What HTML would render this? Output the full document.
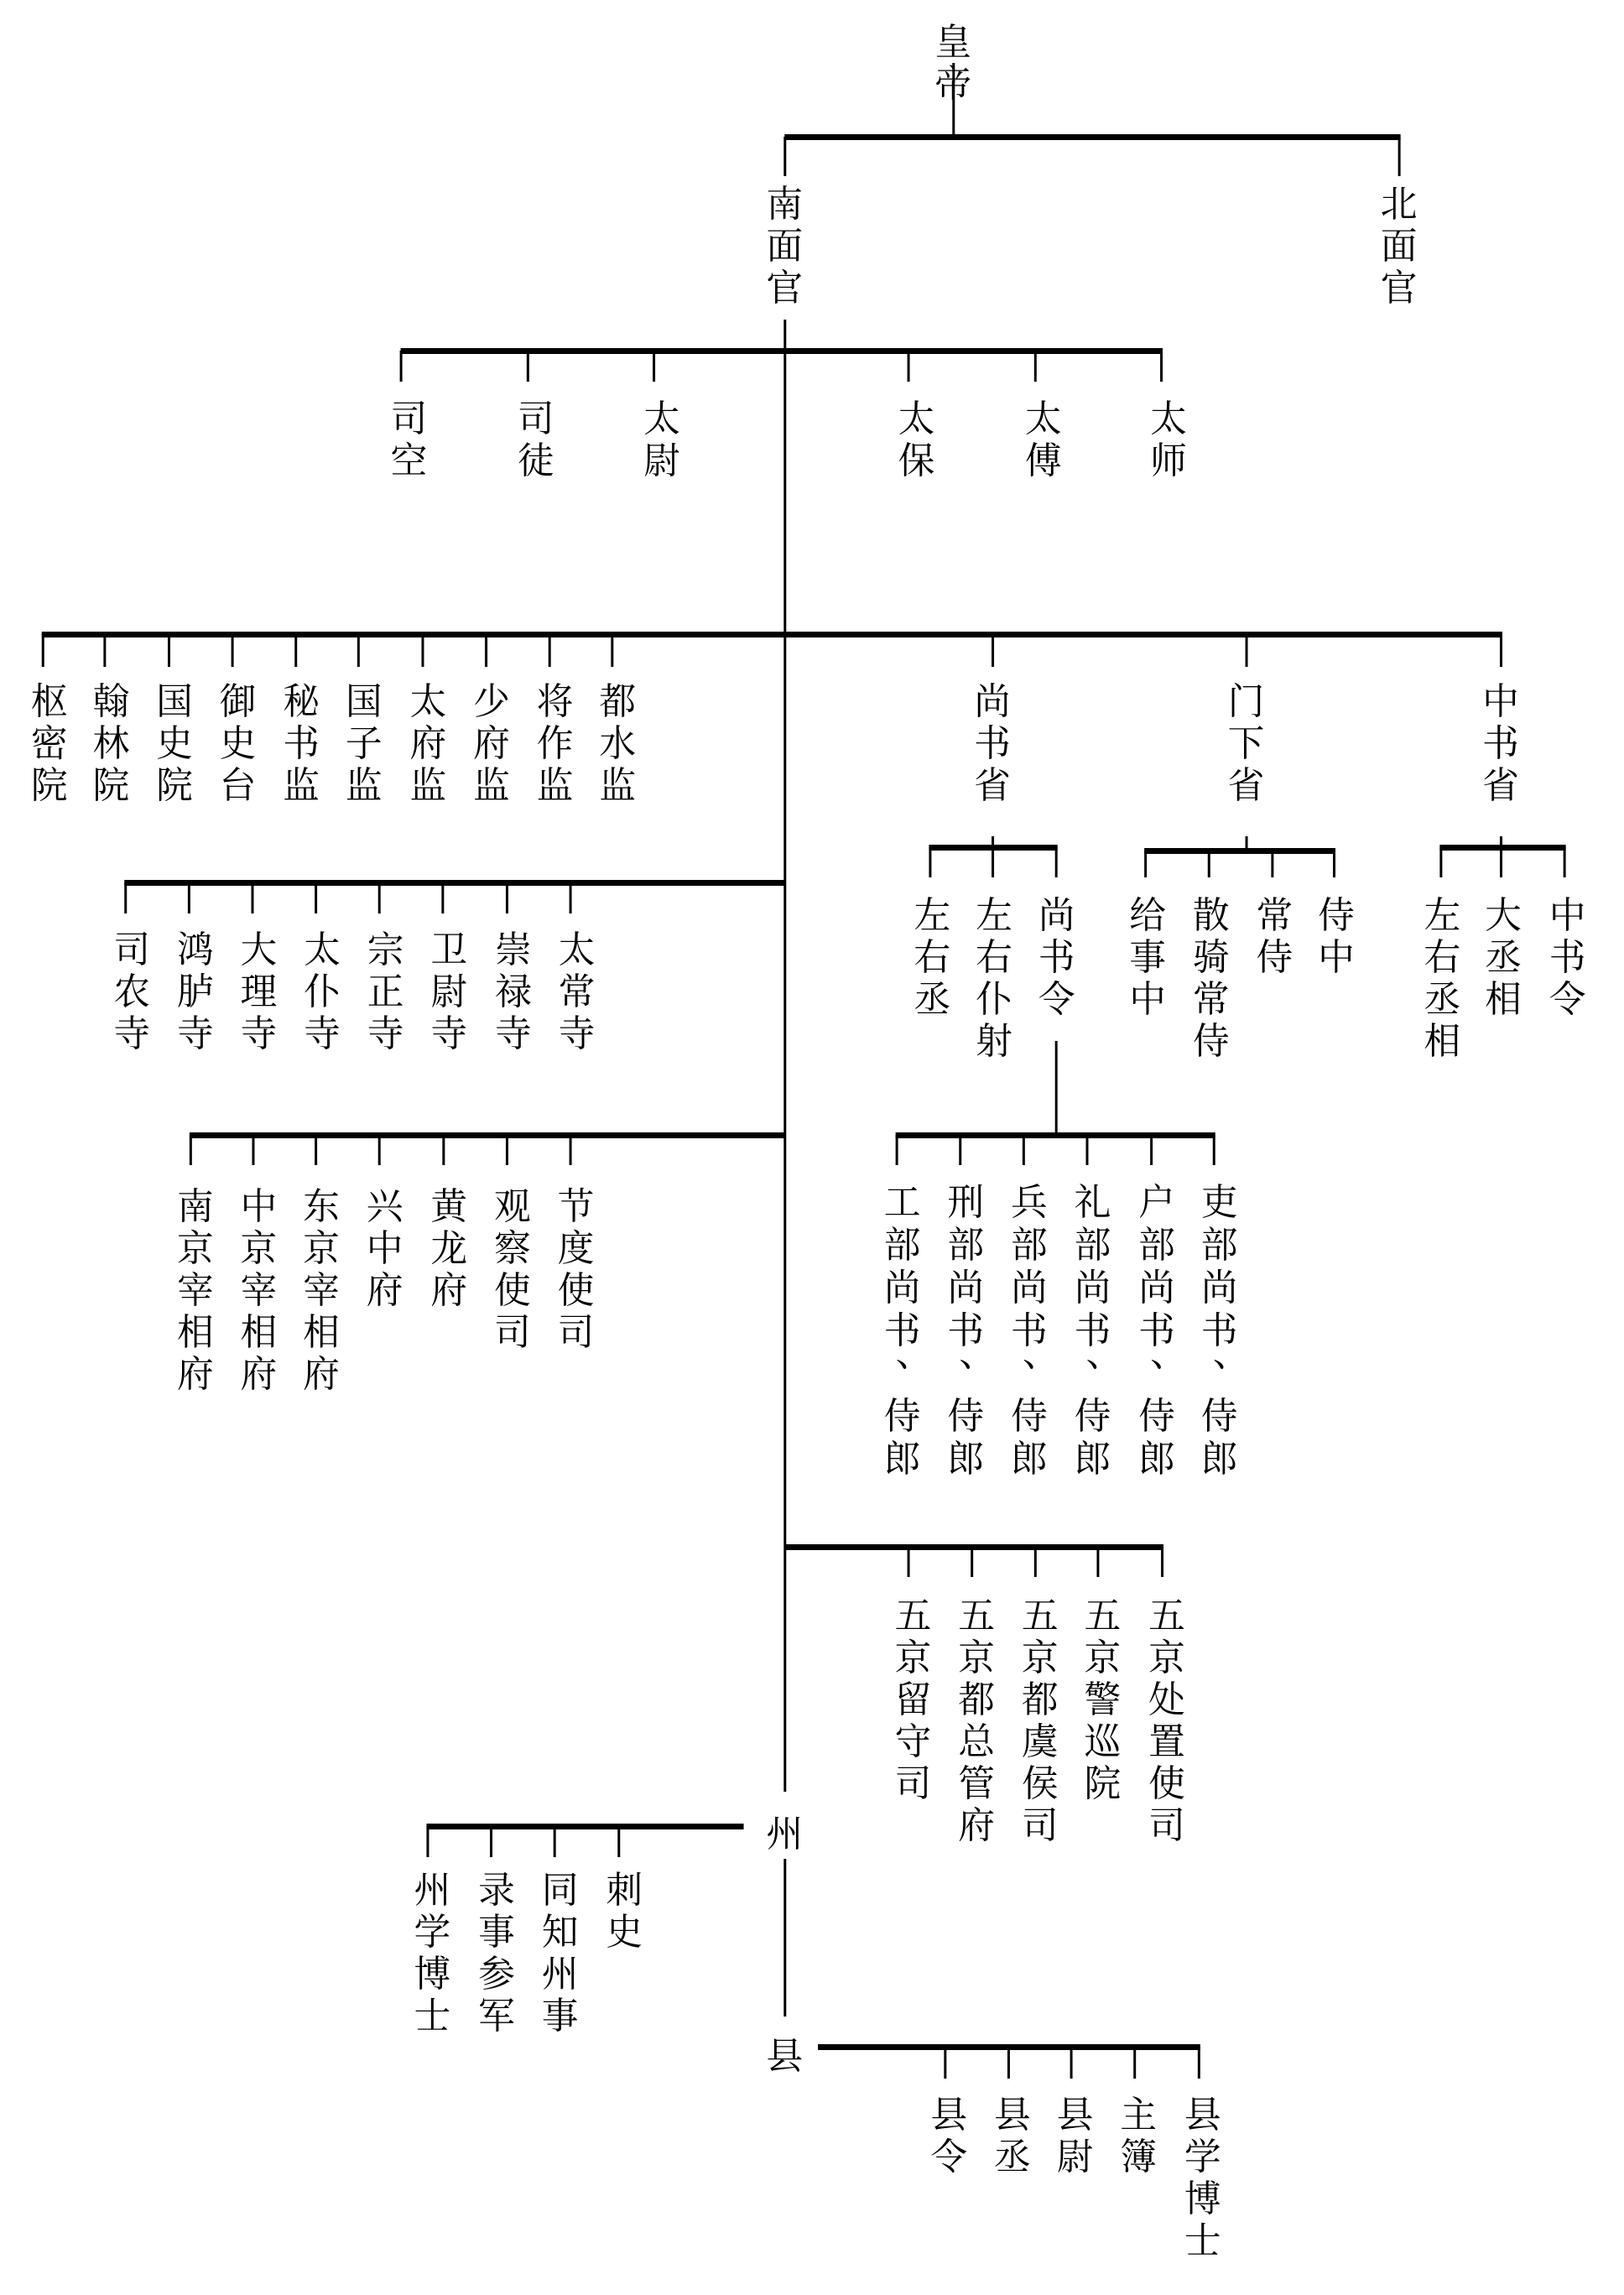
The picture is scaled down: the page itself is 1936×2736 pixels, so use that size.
<!DOCTYPE html>
<html><head><meta charset="utf-8"><style>
body{margin:0;width:1936px;height:2736px;background:#fff;position:relative;overflow:hidden}
#w{position:absolute;left:0;top:0;width:1936px;height:2736px;transform:scaleX(0.995);transform-origin:0 0}
.v{position:absolute;width:60px;margin-left:-30px;text-align:center;font-family:"Liberation Serif","Noto Serif CJK SC",serif;font-size:44px;line-height:50px;color:#000}
.h{position:absolute;background:#000;height:7px}
.l{position:absolute;background:#000;width:3px;margin-left:-1px}
.d{display:inline-block;transform:translate(14px,-24px)}
</style></head><body><div id="w">
<!-- top -->
<div class="v" style="left:1142px;top:26px">皇<br>帝</div>
<div class="l" style="left:1142px;top:75px;height:90px"></div>
<div class="h" style="left:940px;top:160px;width:738px"></div>
<div class="l" style="left:940px;top:163px;height:47px"></div>
<div class="l" style="left:1676px;top:163px;height:47px"></div>
<div class="v" style="left:940px;top:219px">南<br>面<br>官</div>
<div class="v" style="left:1676px;top:219px">北<br>面<br>官</div>
<!-- trunk -->
<div class="l" style="left:940px;top:381px;height:1755px"></div>
<div class="l" style="left:940px;top:2216px;height:188px"></div>
<!-- bar2 -->
<div class="h" style="left:480px;top:415px;width:913px"></div>
<div class="l" style="left:480px;top:418px;height:37px"></div>
<div class="l" style="left:632px;top:418px;height:37px"></div>
<div class="l" style="left:783px;top:418px;height:37px"></div>
<div class="l" style="left:1088px;top:418px;height:37px"></div>
<div class="l" style="left:1240px;top:418px;height:37px"></div>
<div class="l" style="left:1391px;top:418px;height:37px"></div>
<div class="v" style="left:490px;top:475px">司<br>空</div>
<div class="v" style="left:642px;top:475px">司<br>徒</div>
<div class="v" style="left:793px;top:475px">太<br>尉</div>
<div class="v" style="left:1098px;top:475px">太<br>保</div>
<div class="v" style="left:1250px;top:475px">太<br>傅</div>
<div class="v" style="left:1400px;top:475px">太<br>师</div>
<!-- bar3 -->
<div class="h" style="left:50px;top:753px;width:1750px"></div>
<div class="l" style="left:51px;top:756px;height:39px"></div>
<div class="l" style="left:125px;top:756px;height:39px"></div>
<div class="l" style="left:202px;top:756px;height:39px"></div>
<div class="l" style="left:278px;top:756px;height:39px"></div>
<div class="l" style="left:354px;top:756px;height:39px"></div>
<div class="l" style="left:429px;top:756px;height:39px"></div>
<div class="l" style="left:506px;top:756px;height:39px"></div>
<div class="l" style="left:582px;top:756px;height:39px"></div>
<div class="l" style="left:658px;top:756px;height:39px"></div>
<div class="l" style="left:733px;top:756px;height:39px"></div>
<div class="l" style="left:1189px;top:756px;height:39px"></div>
<div class="l" style="left:1493px;top:756px;height:39px"></div>
<div class="l" style="left:1798px;top:756px;height:39px"></div>
<div class="v" style="left:59px;top:812px">枢<br>密<br>院</div>
<div class="v" style="left:133px;top:812px">翰<br>林<br>院</div>
<div class="v" style="left:209px;top:812px">国<br>史<br>院</div>
<div class="v" style="left:285px;top:812px">御<br>史<br>台</div>
<div class="v" style="left:361px;top:812px">秘<br>书<br>监</div>
<div class="v" style="left:436px;top:812px">国<br>子<br>监</div>
<div class="v" style="left:513px;top:812px">太<br>府<br>监</div>
<div class="v" style="left:589px;top:812px">少<br>府<br>监</div>
<div class="v" style="left:665px;top:812px">将<br>作<br>监</div>
<div class="v" style="left:740px;top:812px">都<br>水<br>监</div>
<div class="v" style="left:1189px;top:812px">尚<br>书<br>省</div>
<div class="v" style="left:1493px;top:812px">门<br>下<br>省</div>
<div class="v" style="left:1798px;top:812px">中<br>书<br>省</div>
<div class="l" style="left:1189px;top:997px;height:14px"></div>
<div class="l" style="left:1493px;top:997px;height:16px"></div>
<div class="l" style="left:1798px;top:997px;height:14px"></div>
<!-- sub bars -->
<div class="h" style="left:1113px;top:1007px;width:154px"></div>
<div class="l" style="left:1114px;top:1010px;height:36px"></div>
<div class="l" style="left:1189px;top:1010px;height:36px"></div>
<div class="l" style="left:1265px;top:1010px;height:36px"></div>
<div class="v" style="left:1117px;top:1067px">左<br>右<br>丞</div>
<div class="v" style="left:1191px;top:1067px">左<br>右<br>仆<br>射</div>
<div class="v" style="left:1266px;top:1067px">尚<br>书<br>令</div>
<div class="h" style="left:1371px;top:1011px;width:229px"></div>
<div class="l" style="left:1372px;top:1014px;height:32px"></div>
<div class="l" style="left:1448px;top:1014px;height:32px"></div>
<div class="l" style="left:1524px;top:1014px;height:32px"></div>
<div class="l" style="left:1598px;top:1014px;height:32px"></div>
<div class="v" style="left:1375px;top:1067px">给<br>事<br>中</div>
<div class="v" style="left:1451px;top:1067px">散<br>骑<br>常<br>侍</div>
<div class="v" style="left:1527px;top:1067px">常<br>侍</div>
<div class="v" style="left:1601px;top:1067px">侍<br>中</div>
<div class="h" style="left:1725px;top:1007px;width:151px"></div>
<div class="l" style="left:1726px;top:1010px;height:36px"></div>
<div class="l" style="left:1798px;top:1010px;height:36px"></div>
<div class="l" style="left:1874px;top:1010px;height:36px"></div>
<div class="v" style="left:1728px;top:1067px">左<br>右<br>丞<br>相</div>
<div class="v" style="left:1801px;top:1067px">大<br>丞<br>相</div>
<div class="v" style="left:1878px;top:1067px">中<br>书<br>令</div>
<!-- 寺 bar -->
<div class="h" style="left:149px;top:1049px;width:792px"></div>
<div class="l" style="left:150px;top:1052px;height:37px"></div>
<div class="l" style="left:226px;top:1052px;height:37px"></div>
<div class="l" style="left:302px;top:1052px;height:37px"></div>
<div class="l" style="left:378px;top:1052px;height:37px"></div>
<div class="l" style="left:454px;top:1052px;height:37px"></div>
<div class="l" style="left:530px;top:1052px;height:37px"></div>
<div class="l" style="left:607px;top:1052px;height:37px"></div>
<div class="l" style="left:683px;top:1052px;height:37px"></div>
<div class="v" style="left:158px;top:1108px">司<br>农<br>寺</div>
<div class="v" style="left:234px;top:1108px">鸿<br>胪<br>寺</div>
<div class="v" style="left:310px;top:1108px">大<br>理<br>寺</div>
<div class="v" style="left:386px;top:1108px">太<br>仆<br>寺</div>
<div class="v" style="left:462px;top:1108px">宗<br>正<br>寺</div>
<div class="v" style="left:538px;top:1108px">卫<br>尉<br>寺</div>
<div class="v" style="left:615px;top:1108px">崇<br>禄<br>寺</div>
<div class="v" style="left:691px;top:1108px">太<br>常<br>寺</div>
<!-- 部 -->
<div class="l" style="left:1265px;top:1241px;height:112px"></div>
<div class="h" style="left:1073px;top:1350px;width:383px"></div>
<div class="l" style="left:1074px;top:1353px;height:36px"></div>
<div class="l" style="left:1150px;top:1353px;height:36px"></div>
<div class="l" style="left:1226px;top:1353px;height:36px"></div>
<div class="l" style="left:1302px;top:1353px;height:36px"></div>
<div class="l" style="left:1379px;top:1353px;height:36px"></div>
<div class="l" style="left:1454px;top:1353px;height:36px"></div>
<div class="v" style="left:1081px;top:1408px;line-height:51px">工<br>部<br>尚<br>书<br><span class="d">、</span><br>侍<br>郎</div>
<div class="v" style="left:1157px;top:1408px;line-height:51px">刑<br>部<br>尚<br>书<br><span class="d">、</span><br>侍<br>郎</div>
<div class="v" style="left:1233px;top:1408px;line-height:51px">兵<br>部<br>尚<br>书<br><span class="d">、</span><br>侍<br>郎</div>
<div class="v" style="left:1309px;top:1408px;line-height:51px">礼<br>部<br>尚<br>书<br><span class="d">、</span><br>侍<br>郎</div>
<div class="v" style="left:1386px;top:1408px;line-height:51px">户<br>部<br>尚<br>书<br><span class="d">、</span><br>侍<br>郎</div>
<div class="v" style="left:1461px;top:1408px;line-height:51px">吏<br>部<br>尚<br>书<br><span class="d">、</span><br>侍<br>郎</div>
<!-- 府 -->
<div class="h" style="left:227px;top:1350px;width:714px"></div>
<div class="l" style="left:228px;top:1353px;height:36px"></div>
<div class="l" style="left:303px;top:1353px;height:36px"></div>
<div class="l" style="left:378px;top:1353px;height:36px"></div>
<div class="l" style="left:454px;top:1353px;height:36px"></div>
<div class="l" style="left:531px;top:1353px;height:36px"></div>
<div class="l" style="left:607px;top:1353px;height:36px"></div>
<div class="l" style="left:683px;top:1353px;height:36px"></div>
<div class="v" style="left:234px;top:1414px">南<br>京<br>宰<br>相<br>府</div>
<div class="v" style="left:310px;top:1414px">中<br>京<br>宰<br>相<br>府</div>
<div class="v" style="left:385px;top:1414px">东<br>京<br>宰<br>相<br>府</div>
<div class="v" style="left:461px;top:1414px">兴<br>中<br>府</div>
<div class="v" style="left:538px;top:1414px">黄<br>龙<br>府</div>
<div class="v" style="left:614px;top:1414px">观<br>察<br>使<br>司</div>
<div class="v" style="left:690px;top:1414px">节<br>度<br>使<br>司</div>
<!-- 五京 -->
<div class="h" style="left:940px;top:1841px;width:454px"></div>
<div class="l" style="left:1088px;top:1844px;height:36px"></div>
<div class="l" style="left:1164px;top:1844px;height:36px"></div>
<div class="l" style="left:1240px;top:1844px;height:36px"></div>
<div class="l" style="left:1315px;top:1844px;height:36px"></div>
<div class="l" style="left:1392px;top:1844px;height:36px"></div>
<div class="v" style="left:1094px;top:1902px">五<br>京<br>留<br>守<br>司</div>
<div class="v" style="left:1170px;top:1902px">五<br>京<br>都<br>总<br>管<br>府</div>
<div class="v" style="left:1246px;top:1902px">五<br>京<br>都<br>虞<br>侯<br>司</div>
<div class="v" style="left:1321px;top:1902px">五<br>京<br>警<br>巡<br>院</div>
<div class="v" style="left:1398px;top:1902px">五<br>京<br>处<br>置<br>使<br>司</div>
<!-- 州 -->
<div class="v" style="left:940px;top:2162px">州</div>
<div class="h" style="left:511px;top:2174px;width:380px"></div>
<div class="l" style="left:512px;top:2177px;height:37px"></div>
<div class="l" style="left:588px;top:2177px;height:37px"></div>
<div class="l" style="left:664px;top:2177px;height:37px"></div>
<div class="l" style="left:741px;top:2177px;height:37px"></div>
<div class="v" style="left:518px;top:2229px">州<br>学<br>博<br>士</div>
<div class="v" style="left:595px;top:2229px">录<br>事<br>参<br>军</div>
<div class="v" style="left:671px;top:2229px">同<br>知<br>州<br>事</div>
<div class="v" style="left:748px;top:2229px">刺<br>史</div>
<!-- 县 -->
<div class="v" style="left:940px;top:2427px">县</div>
<div class="h" style="left:980px;top:2437px;width:458px"></div>
<div class="l" style="left:1132px;top:2440px;height:38px"></div>
<div class="l" style="left:1208px;top:2440px;height:38px"></div>
<div class="l" style="left:1283px;top:2440px;height:38px"></div>
<div class="l" style="left:1359px;top:2440px;height:38px"></div>
<div class="l" style="left:1436px;top:2440px;height:38px"></div>
<div class="v" style="left:1137px;top:2497px">县<br>令</div>
<div class="v" style="left:1213px;top:2497px">县<br>丞</div>
<div class="v" style="left:1288px;top:2497px">县<br>尉</div>
<div class="v" style="left:1364px;top:2497px">主<br>簿</div>
<div class="v" style="left:1441px;top:2497px">县<br>学<br>博<br>士</div>
</div></body></html>
